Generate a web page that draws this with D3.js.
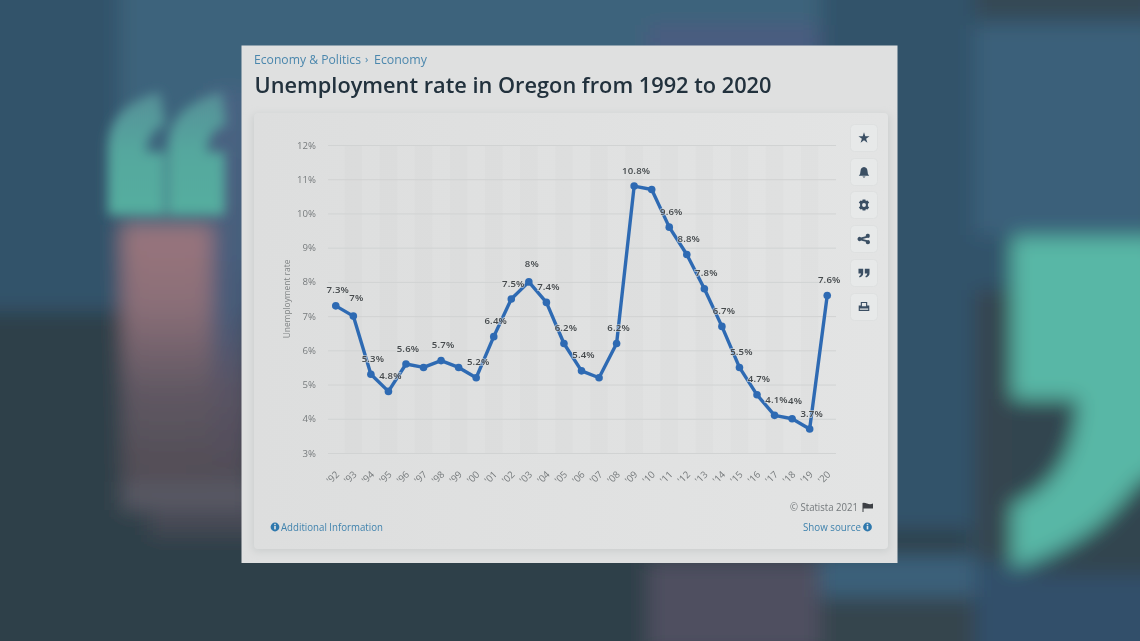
<!DOCTYPE html>
<html><head><meta charset="utf-8">
<style>html,body{margin:0;padding:0;background:#2f4f66;overflow:hidden}svg{display:block}text{font-family:"Open Sans",sans-serif}</style>
<script src="https://cdn.jsdelivr.net/npm/d3@7"></script>
</head><body><svg id="c" width="1140" height="641"></svg>
<script>
const years=["'92","'93","'94","'95","'96","'97","'98","'99","'00","'01","'02","'03","'04","'05","'06","'07","'08","'09","'10","'11","'12","'13","'14","'15","'16","'17","'18","'19","'20"];
const rates=[7.3,7,5.3,4.8,5.6,5.5,5.7,5.5,5.2,6.4,7.5,8,7.4,6.2,5.4,5.2,6.2,10.8,10.7,9.6,8.8,7.8,6.7,5.5,4.7,4.1,4,3.7,7.6];
const unlabelled=["'97","'99","'07","'10"];
const yTicks=[3,4,5,6,7,8,9,10,11,12];
const breadcrumb=["Economy & Politics","Economy"];
const titleText="Unemployment rate in Oregon from 1992 to 2020";
const yTitle="Unemployment rate";

const svg=d3.select("#c");
const defs=svg.append("defs");
const blur=(id,s)=>defs.append("filter").attr("id",id).attr("filterUnits","userSpaceOnUse").attr("x",-100).attr("y",-100).attr("width",1340).attr("height",841)
  .append("feGaussianBlur").attr("stdDeviation",s);
blur("b8",10);blur("b4",6);blur("soft",0.4);blur("sh",4);
const vg=(id,stops)=>{const g=defs.append("linearGradient").attr("id",id).attr("x1",0).attr("x2",0).attr("y1",0).attr("y2",1);
  stops.forEach(([o,c])=>g.append("stop").attr("offset",o).attr("stop-color",c));};
vg("red",[[0,"#9a757c"],[.3,"#8b6f78"],[.65,"#5f5762"],[1,"#504c54"]]);
vg("pur",[[0,"#4a6484"],[.55,"#495b78"],[.75,"#5a5364"],[1,"#4f4c55"]]);
vg("qt",[[0,"#568f98"],[.5,"#55a89e"],[1,"#55ae9f"]]);
const hg=defs.append("linearGradient").attr("id","panel");
hg.append("stop").attr("offset",0).attr("stop-color","#dddede");hg.append("stop").attr("offset",1).attr("stop-color","#e3e4e4");

// blurred backdrop
const bg=svg.append("g").attr("filter","url(#b8)");
const R=(x,y,w,h,f)=>bg.append("rect").attr("x",x).attr("y",y).attr("width",w).attr("height",h).attr("fill",f);
R(-30,-30,1200,700,"#31536b");
R(120,-30,700,300,"#3c647c");
R(-30,311,300,360,"#2f4149");
R(-30,530,1000,140,"#2e3f48");
R(208,90,40,400,"url(#pur)");
R(122,225,90,260,"url(#red)");
R(122,482,130,28,"#585863");
R(150,510,110,25,"#474854");
R(648,25,170,30,"#4b5c80");
R(648,562,172,90,"#4f5060");
R(820,555,155,42,"#3b617a");
R(820,597,155,60,"#34444d");
R(820,-30,155,120,"#33526a");
R(975,25,180,210,"#3a607a");
R(975,-30,180,50,"#354a54");
R(975,570,180,80,"#31506a");
R(975,290,40,272,"#34454f");
const Pth=(d,f,par=bg)=>par.append("path").attr("d",d).attr("fill",f);
Pth("M1012 237H1160V470Q1090 545 1012 568V505Q1075 480 1078 399H1012Z","#59b7a6");
Pth("M1012 399H1078Q1075 480 1012 505Z","#33454f");
Pth("M1140 480L1160 470V575H1020Q1090 545 1140 480Z","#33454f");
const qg=svg.append("g").attr("filter","url(#b4)");
Pth("M108 215V145Q110 105 160 92L165 125Q148 130 146 152H165V215Z","url(#qt)",qg);
Pth("M168 215V145Q170 105 222 92L226 125Q208 130 207 152H225V215Z","url(#qt)",qg);

// white sheet
const sheet=svg.append("g").attr("filter","url(#soft)");
sheet.append("rect").attr("x",241.5).attr("y",45.5).attr("width",656).attr("height",517.5).attr("fill","#dfe0e0");
sheet.append("rect").attr("x",253).attr("y",115).attr("width",636).attr("height",436).attr("fill","#c9cccc").attr("filter","url(#sh)");
sheet.append("rect").attr("x",254).attr("y",113).attr("width",634).attr("height",436).attr("rx",4).attr("fill","url(#panel)");

// header
const crumbCol="#4b87ad";
sheet.append("text").attr("x",254).attr("y",64).attr("font-size",12.4).attr("textLength",107).attr("lengthAdjust","spacingAndGlyphs").attr("fill",crumbCol).text(breadcrumb[0]);
sheet.append("text").attr("x",365).attr("y",63).attr("font-size",11).attr("fill",crumbCol).text("›");
sheet.append("text").attr("x",374).attr("y",64).attr("font-size",12.4).attr("textLength",53).attr("lengthAdjust","spacingAndGlyphs").attr("fill",crumbCol).text(breadcrumb[1]);
sheet.append("text").attr("x",254.5).attr("y",92.5).attr("font-size",22).attr("font-weight",600).attr("fill","#22303d").attr("textLength",517).attr("lengthAdjust","spacingAndGlyphs").text(titleText);

// scales
const x=d3.scaleBand().domain(years).range([327,836]).padding(0);
const y=d3.scaleLinear().domain([3,12]).range([453,145]);
const cx=d=>x(d)+x.bandwidth()/2;

// stripes
sheet.append("g").selectAll("rect").data(years.filter((d,i)=>i%2===1)).join("rect")
  .attr("x",d=>x(d)).attr("y",y(12)).attr("width",x.bandwidth()).attr("height",y(3)-y(12)).attr("fill","#8c8f8f").attr("opacity",.025);

// axes
const yA=sheet.append("g").attr("transform","translate(328,0)")
  .call(d3.axisLeft(y).tickValues(yTicks).tickFormat(d=>d+"%").tickSize(-508).tickPadding(12));
yA.select(".domain").remove();
yA.selectAll("line").attr("stroke","#d1d3d3");
yA.selectAll("text").attr("font-size",9.6).attr("fill","#777b7d").style("font-family",'"Open Sans",sans-serif');
const xA=sheet.append("g").attr("transform","translate(0,453)").call(d3.axisBottom(x).tickSize(0).tickPadding(0));
xA.select(".domain").remove();
xA.selectAll("text").attr("font-size",9.6).attr("fill","#777b7d").attr("text-anchor","end").style("font-family",'"Open Sans",sans-serif')
  .attr("dy",0).attr("transform","translate(4,22) rotate(-45)").attr("y",0).attr("x",0);
sheet.append("text").attr("transform","translate(290,299) rotate(-90)").attr("text-anchor","middle").attr("font-size",8.4).attr("fill","#808485").text(yTitle);

// series
const pts=years.map((d,i)=>({year:d,v:rates[i]}));
const line=d3.line().x(d=>cx(d.year)).y(d=>y(d.v));
sheet.append("path").datum(pts).attr("d",line).attr("fill","none").attr("stroke","#2f6bb3").attr("stroke-width",3.4).attr("stroke-linejoin","round");
sheet.append("g").selectAll("circle").data(pts).join("circle").attr("cx",d=>cx(d.year)).attr("cy",d=>y(d.v)).attr("r",3.8).attr("fill","#2f6bb3");
const isShort=d=>Number.isInteger(d.v);
sheet.append("g").selectAll("text").data(pts.filter(d=>!unlabelled.includes(d.year))).join("text")
  .attr("x",d=>cx(d.year)+(isShort(d)?3:2)).attr("y",d=>y(d.v)-(isShort(d)?15:12.5)).attr("text-anchor","middle")
  .attr("font-size",9.6).attr("font-weight",600).attr("letter-spacing",.15).attr("fill","#45494c")
  .attr("stroke","#e0e1e1").attr("stroke-opacity",.55).attr("stroke-width",2).style("paint-order","stroke").text(d=>d.v+"%");

// side buttons
const btnY=[138,172,205,239,273,307];
const btn=sheet.append("g");
btn.selectAll("rect").data(btnY).join("rect").attr("x",850.5).attr("y",d=>d-13.5).attr("width",27).attr("height",27).attr("rx",4).attr("fill","#e7e9e9").attr("stroke","#dee0e0");
const ic="#3a4f64";
const icons=[
 d3.symbol(d3.symbolStar,38)(),
 "M-4.5 3.2Q-3 2-3-1Q-3-3.8 0-4.4Q3-3.8 3-1Q3 2 4.5 3.2ZM-1.4 4H1.4Q0 5.8-1.4 4Z",
 "M-1.2-4.8H1.2L1.6-3.4L3-4L4.5-2.2L3.4-1.1V1.1L4.5 2.2L3 4L1.6 3.4L1.2 4.8H-1.2L-1.6 3.4L-3 4L-4.5 2.2L-3.4 1.1V-1.1L-4.5-2.2L-3-4L-1.6-3.4ZM0-1.7A1.7 1.7 0 1 0 0 1.7A1.7 1.7 0 1 0 0-1.7Z",
 "M2.9-4.5A1.8 1.8 0 1 1 2.8-1L-1.3-.1L2.8 1A1.8 1.8 0 1 1 1.6 2.4L-2.6 1.3A1.8 1.8 0 1 1-2.6-1.3L1.5-2.5A1.8 1.8 0 0 1 2.9-4.5Z",
 "M-4.8-3.6H-.7V.3Q-.7 3-3.8 4L-4.3 2.9Q-2.8 2.2-2.6.5H-4.8ZM.7-3.6H4.8V.3Q4.8 3 1.7 4L1.2 2.9Q2.7 2.2 2.9.5H.7Z",
 "M-2.8-4.4H2.8V-1.2H4.6V3.4H-4.6V-1.2H-2.8ZM-1.8-3.4V-.6H1.8V-3.4ZM-3.6 1.2V2.4H3.6V1.2Z"
];
btn.selectAll("path").data(icons).join("path").attr("d",d=>d).attr("fill",ic).attr("fill-rule","evenodd").attr("transform",(d,i)=>`translate(864,${btnY[i]}) scale(${i===0?1:1.15})`);

// footer
const linkCol="#3f82ad";
sheet.append("text").attr("x",858).attr("y",511).attr("text-anchor","end").attr("font-size",10.5).attr("textLength",68).attr("lengthAdjust","spacingAndGlyphs").attr("fill","#74797c").text("© Statista 2021");
sheet.append("path").attr("d","M862.5 503V512H863.5V508.5H873V503.5Q870 505 867 503.5Q864.5 502.5 862.5 503Z").attr("fill","#3c4044");
sheet.append("text").attr("x",281).attr("y",531).attr("font-size",10.8).attr("textLength",102).attr("lengthAdjust","spacingAndGlyphs").attr("fill",linkCol).text("Additional Information");
sheet.append("text").attr("x",803).attr("y",531).attr("font-size",10.8).attr("textLength",58).attr("lengthAdjust","spacingAndGlyphs").attr("fill",linkCol).text("Show source");
[275,867.5].forEach(px=>{
  sheet.append("circle").attr("cx",px).attr("cy",527).attr("r",4.4).attr("fill","#2f78ad");
  sheet.append("rect").attr("x",px-.8).attr("y",526).attr("width",1.6).attr("height",3.4).attr("fill","#e3e4e4");
  sheet.append("rect").attr("x",px-.8).attr("y",523.8).attr("width",1.6).attr("height",1.4).attr("fill","#e3e4e4");
});
</script></body></html>
